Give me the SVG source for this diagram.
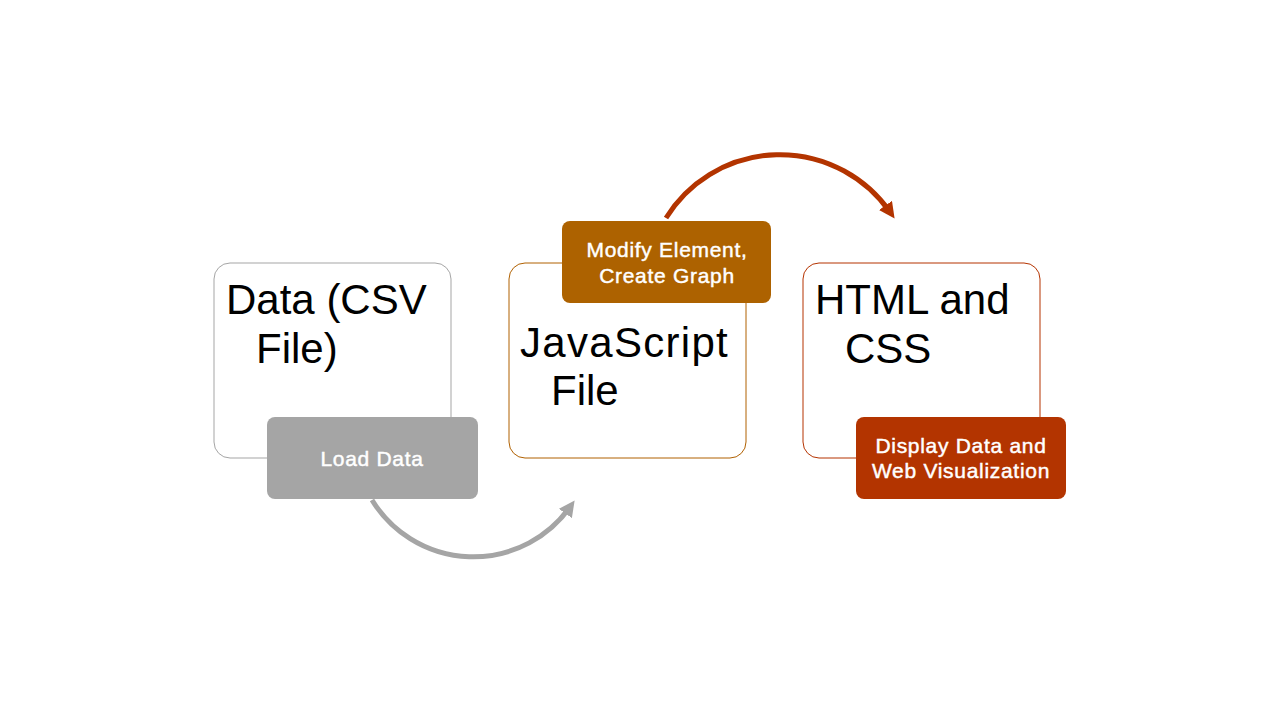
<svg xmlns="http://www.w3.org/2000/svg" width="1280" height="720" viewBox="0 0 1280 720">
<defs>
<style>
.big{font-family:"Liberation Sans",Arial,sans-serif;font-size:42px;fill:#000}
.lbl{font-family:"Liberation Sans",Arial,sans-serif;font-size:21px;fill:#fff;stroke:#fff;stroke-width:0.45px;text-anchor:middle;letter-spacing:0.7px}
.card{fill:#fff;stroke-width:1}
</style>
<marker id="ag" viewBox="0 0 10 10" refX="5" refY="5" markerWidth="3.2" markerHeight="3.2" orient="auto" markerUnits="strokeWidth"><path d="M0,0 L10,5 L0,10 Z" fill="#a5a5a5"/></marker>
<marker id="ar" viewBox="0 0 10 10" refX="5" refY="5" markerWidth="3.2" markerHeight="3.2" orient="auto" markerUnits="strokeWidth"><path d="M0,0 L10,5 L0,10 Z" fill="#b33400"/></marker>
</defs>
<rect width="1280" height="720" fill="#fff"/>
<g id="connectors" fill="none" stroke-width="5">
<path d="M372,500 A118.7,118.7 0 0 0 570,507" stroke="#a5a5a5" marker-end="url(#ag)"/>
<path d="M666,218 A134.2,134.2 0 0 1 890,212" stroke="#b33400" marker-end="url(#ar)"/>
</g>
<g id="node-data">
<rect class="card" x="214" y="263" width="237" height="195" rx="16" stroke="#a5a5a5"/>
<text class="big" x="226" y="314">Data (CSV</text>
<text class="big" x="256" y="363">File)</text>
</g>
<g id="node-load">
<rect x="267" y="417" width="211" height="82" rx="8" fill="#a5a5a5"/>
<text class="lbl" x="372" y="466">Load Data</text>
</g>
<g id="node-js">
<rect class="card" x="509" y="263" width="237" height="195" rx="16" stroke="#b06000"/>
<text class="big" x="520" y="357" letter-spacing="1.3">JavaScript</text>
<text class="big" x="551" y="405">File</text>
</g>
<g id="node-modify">
<rect x="562" y="221" width="209" height="82" rx="8" fill="#ad6200"/>
<text class="lbl" x="667" y="257">Modify Element,</text>
<text class="lbl" x="667" y="283">Create Graph</text>
</g>
<g id="node-html">
<rect class="card" x="803" y="263" width="237" height="195" rx="16" stroke="#b53300"/>
<text class="big" x="815" y="314">HTML and</text>
<text class="big" x="845" y="363">CSS</text>
</g>
<g id="node-display">
<rect x="856" y="417" width="210" height="82" rx="8" fill="#b33400"/>
<text class="lbl" x="961" y="453">Display Data and</text>
<text class="lbl" x="961" y="478">Web Visualization</text>
</g>
</svg>
